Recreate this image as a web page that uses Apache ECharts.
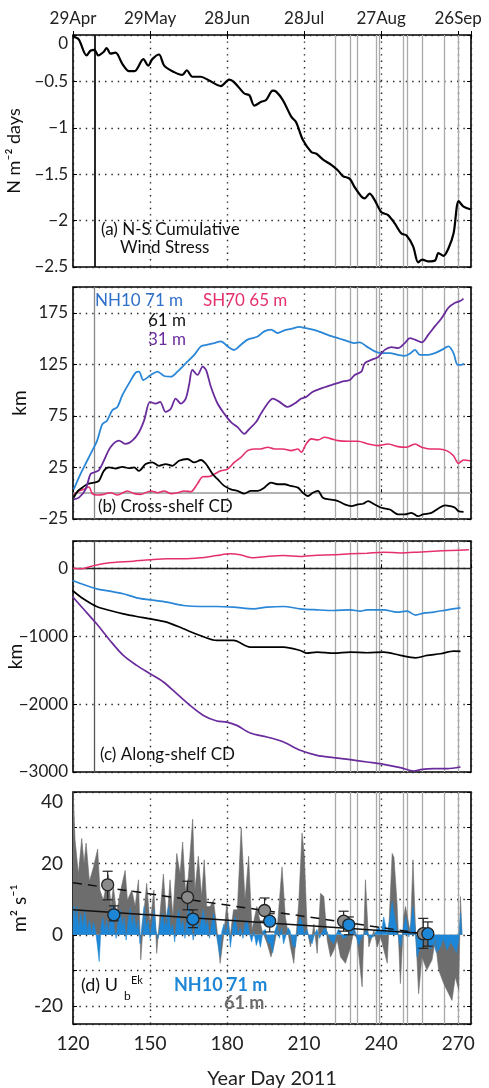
<!DOCTYPE html>
<html>
<head>
<meta charset="utf-8">
<title>Cumulative displacement</title>
<script src="https://cdn.jsdelivr.net/npm/echarts@6/dist/echarts.min.js"></script>
<style>
  html, body { margin: 0; padding: 0; background: #fff; }
  #main { width: 489px; height: 1088px; }
</style>
</head>
<body>
<div id="main"></div>
<script>
// ---- data ----
var xTicks = [120, 150, 180, 210, 240, 270];
var dateLabels = ['29Apr', '29May', '28Jun', '28Jul', '27Aug', '26Sep'];
var eventDays = [222, 228.1, 230.7, 238.2, 239.3, 248.5, 250.3, 256, 264.7, 269.9];
var deployDay = 128.3;

// (a) N-S cumulative wind stress
var windStress = [[120,0],[120.6,-0.02],[122.3,-0.05],[125.3,-0.22],[126.8,-0.17],[128.4,-0.16],[129.8,-0.22],[132,-0.18],[133.1,-0.14],[134.6,-0.2],[136.6,-0.19],[139.2,-0.31],[141.8,-0.39],[144,-0.39],[147.4,-0.26],[149.3,-0.33],[150.9,-0.26],[153.5,-0.21],[155.5,-0.33],[159.4,-0.40],[162.6,-0.43],[164.3,-0.38],[166.5,-0.45],[169.8,-0.45],[173,-0.49],[177.6,-0.55],[180.8,-0.48],[182.8,-0.51],[186.7,-0.63],[188.7,-0.65],[190.6,-0.76],[193.3,-0.72],[195.2,-0.70],[197.8,-0.60],[199.1,-0.61],[201.7,-0.70],[205,-0.88],[206.9,-0.94],[209.5,-1.13],[212.8,-1.26],[214.8,-1.28],[217.3,-1.34],[220.6,-1.40],[223.2,-1.46],[225.1,-1.52],[227.8,-1.55],[229.7,-1.64],[232.3,-1.74],[233.6,-1.76],[235.5,-1.71],[237.5,-1.78],[240.1,-1.91],[242.7,-1.94],[245.3,-2.03],[247.9,-2.14],[249.9,-2.16],[252.5,-2.28],[254.4,-2.45],[256,-2.42],[258.4,-2.44],[261,-2.43],[262.3,-2.35],[264.3,-2.38],[266.2,-2.30],[268.2,-2.14],[270.2,-1.79],[272.1,-1.85],[275,-1.88]];

// (b) cross-shelf cumulative displacement, km
var crossNH71 = [[120.3,3.8],[122.9,18.5],[125.5,31.5],[127.5,41.3],[129.4,51],[131.4,66.7],[133.3,70.6],[135.3,80.4],[137.3,83.7],[139.2,95],[141.8,106.5],[144.4,117],[145.7,118],[147.4,109.8],[150.3,114.7],[152.9,118],[155.5,113.7],[158.1,113],[160.7,118],[163.9,126],[167.2,134.2],[169.8,142.4],[172.4,144],[175,145.6],[177.6,147.3],[180.2,142.4],[182.8,139],[185.4,144],[188,149],[191.9,152],[194.5,157],[197.1,158.7],[199.7,155.4],[202.3,158],[204.9,159.3],[208.2,161.3],[210.2,160.3],[213.4,158.7],[216.7,156],[219.9,152.8],[223.2,150.5],[227.1,147.3],[229.7,145.6],[231.7,146.3],[234.3,142.4],[237.5,137.5],[240.1,135.9],[243.4,135.9],[246.6,134.2],[249.2,133.3],[251.2,135.2],[253.2,139],[255.1,134.2],[258.4,134.2],[261,135.9],[263.6,139],[266.2,142.4],[268.2,135.9],[269.8,124.4],[271.4,124.4],[272.1,126]];
var crossSH65 = [[120.3,-1.7],[122.3,2.2],[124.2,3.8],[126.2,6.1],[127.5,-0.4],[129.4,-1.7],[132,-1.1],[134.6,0.5],[137.3,-1.7],[141.2,2.2],[143.8,-0.4],[146.4,-1.1],[150.3,2.2],[152.9,0.5],[155.5,2.2],[158.1,-0.4],[160.7,0.5],[163.3,2.2],[165.9,1.5],[168.5,9.3],[170.5,15.9],[173.1,16.2],[175,18.5],[177.6,21.7],[180.2,23.4],[182.8,29.9],[185.4,34.8],[188,41.3],[190.6,42.9],[193.2,42.9],[195.8,44.6],[198.4,42.9],[201.7,42.9],[205,41.3],[207.6,42.9],[208.9,39.7],[210.8,47.8],[212.8,52.7],[215.4,51.7],[218,54.3],[220.6,52.7],[223.2,51],[227.1,50.4],[231,50.4],[234.9,47.8],[238.8,46.2],[242.7,47.8],[246.6,45.2],[249.9,44.6],[253.2,47.8],[255.8,44.6],[259,42.9],[262.3,42.9],[265.5,41.3],[268.2,36.4],[270.1,28.9],[272.1,32.2],[274.6,31.5]];
var crossNH61 = [[120.3,-4.3],[121.9,2.2],[123.6,5.4],[125.5,8.7],[128.1,10.3],[130.1,12],[132,21.7],[134,25],[136.6,24],[139.2,25.6],[141.8,24.3],[143.8,25],[145.7,21.7],[148.3,28.3],[150.9,29.9],[153.5,26.6],[156.1,28.3],[158.7,26.6],[161.3,31.5],[164.6,33.2],[167.2,29.9],[169.8,32.2],[171.8,28.3],[174.4,18.5],[176.3,13.6],[178.9,7.1],[181.5,3.8],[184.1,2.2],[186.7,-0.4],[189.3,2.2],[191.9,2.2],[194.5,5.4],[197.1,10.3],[199.7,8.7],[202.3,8.7],[204.9,7.1],[207.6,5.4],[209.5,0.5],[211.5,-2.7],[213.4,0.5],[215.4,2.2],[217.3,-4.3],[219.9,-6],[223.2,-7.6],[225.8,-10.9],[228.4,-12.5],[231,-10.9],[233,-10.2],[234.9,-7.6],[237.5,-10.9],[240.1,-14.1],[243.4,-15.8],[246.6,-20.6],[249.2,-20.6],[251.8,-19],[254.4,-22.3],[256.3,-20.6],[259.6,-19],[262.3,-14.8],[264.9,-11.8],[266.8,-12.5],[268.8,-14.1],[270.1,-17.4],[272.1,-18]];
var crossNH31 = [[120.3,-6],[122.3,-4.3],[124.9,3.8],[126.8,18.5],[128.1,20.1],[130.1,22.4],[132,31.5],[134.6,44.6],[137.9,51],[140.5,47.8],[143.1,51],[145.7,59.2],[147.7,70.6],[150,88.6],[152.2,86.9],[153.9,88.6],[156.1,78.8],[158.1,82],[160,91.8],[162,86.9],[163.9,91.8],[165.2,104.9],[166.5,119.6],[168.5,114.7],[170.5,122.8],[171.8,119.6],[173.7,103.3],[176.3,87],[178.9,77.2],[181.5,69],[184.1,64.1],[186.7,57.6],[188.7,62.5],[191.3,69],[193.2,77.2],[195.8,87],[197.8,91.8],[200.4,88.6],[203.7,83.7],[206.3,87],[208.9,91.8],[210.8,93.4],[213.4,98.4],[216.7,101.6],[220.6,104.9],[224.5,108.1],[227.8,109.8],[229.7,114.7],[232.3,118],[233.6,126],[236.2,129.3],[238.8,132],[241.4,139],[244,141.7],[246.6,140.7],[249.2,145.6],[251.2,150.5],[253.2,148.9],[255.8,146.3],[258.4,153.8],[261,162],[263.6,170],[266.2,179.9],[268.8,184.8],[270.8,186.4],[272.1,188.7]];

// (c) along-shelf cumulative displacement, km
var alongSH65 = [[120,0],[123.3,-10],[127.2,29],[133,74],[143.5,103],[150,123],[156.5,137],[163,137],[169.5,152],[176,186],[181.2,211],[185.1,196],[190.3,152],[195.5,172],[202,186],[208.5,172],[215,191],[221.5,196],[228,211],[234.5,221],[241,235],[247.5,225],[254,235],[260.5,250],[267,260],[274.2,270]];
var alongNH71 = [[119.8,-181],[124,-240],[129.2,-304],[134.4,-338],[139.6,-377],[144.8,-436],[150,-466],[156.5,-500],[163,-549],[169.5,-564],[176,-564],[182.5,-574],[190.3,-598],[195.5,-574],[202,-564],[208.5,-598],[215,-613],[221.5,-623],[228,-613],[231.9,-632],[234.5,-613],[241,-613],[246.2,-647],[250.1,-632],[253.4,-691],[256.6,-662],[260.5,-647],[265.7,-613],[270.9,-583]];
var alongNH61 = [[119.8,-328],[124,-451],[129.2,-564],[134.4,-623],[139.6,-672],[144.8,-711],[150,-745],[156.5,-794],[163,-892],[169.5,-990],[176,-1064],[182.5,-1064],[189,-1162],[195.5,-1162],[202,-1162],[208.5,-1211],[211.1,-1250],[215,-1235],[221.5,-1250],[228,-1235],[234.5,-1245],[241,-1235],[247.5,-1284],[253.4,-1319],[257.9,-1284],[263.1,-1260],[268.3,-1221],[270.9,-1225]];
var alongNH31 = [[119.8,-417],[124,-598],[129.2,-819],[134.4,-1064],[139.6,-1284],[144.8,-1431],[150,-1554],[155.2,-1676],[160.4,-1848],[165.6,-2020],[170.8,-2167],[176,-2250],[179.9,-2265],[183.8,-2314],[189,-2426],[195.5,-2485],[202,-2559],[208.5,-2681],[215,-2755],[221.5,-2789],[228,-2819],[234.5,-2853],[241,-2887],[247.5,-2936],[252.7,-2985],[255.3,-2966],[260.5,-2951],[265.7,-2951],[270.9,-2926]];

// (d) Ekman transport U_b^Ek, m2 s-1
var ekNH61 = [[120,41],[120.8,26.6],[122.1,17],[123.4,27],[124.3,20],[125.1,25.7],[126.4,15],[128,19],[129.6,24],[130.5,12.5],[131.8,9.7],[133.8,16.8],[134.8,8],[135.7,13.5],[137,6],[138.3,11.6],[140.3,18],[141.2,9.7],[142.9,12.5],[144.2,8],[145.5,15.4],[146.4,-7],[147.7,7],[148.7,14.4],[150,3],[151.5,12.5],[152.6,-5.2],[153.9,6],[155.2,17],[156.5,3],[157.8,15.4],[158.9,5],[160.4,22.8],[161.7,17],[162.7,26],[163.8,12.5],[164.9,16],[166.6,32.4],[167.5,12.5],[168.8,22],[170.1,10.7],[171.1,21],[172.1,7.9],[173.4,7.9],[174.7,9.7],[176,2],[177.3,-8],[178.6,-0.6],[179.9,8.8],[181.2,-0.6],[182.5,7],[184,7],[185.5,30],[187,9.7],[188.4,22],[189.7,1.3],[191.6,7.9],[193.6,1.3],[195.6,-2.4],[197.1,-6.2],[198.2,-3.4],[199.5,1.3],[201.4,19],[202.7,5],[204.7,-3.4],[206,-8],[207.9,8.8],[209.2,28.5],[210.1,22],[211.2,1.3],[212.5,-3.4],[213.8,3],[215.1,-5.2],[216.4,11.6],[217.7,10.7],[219,-1.5],[220.3,-6.2],[221.6,-4.3],[222.9,-1.5],[224.2,-6.2],[226.1,-8],[228.1,-3.4],[229.4,1.3],[230.7,-1.5],[232.6,-14.6],[233.9,15.4],[235.2,-3.4],[237.2,1.3],[238.5,-3.4],[239.8,-0.6],[242.4,-8],[244.3,22.8],[245,21.7],[246.2,8.8],[247.5,-13.7],[248.8,5],[249.5,7.9],[251.4,0.4],[252.4,21],[253.3,3.2],[254.6,-16.5],[255.9,-6.2],[257.8,-9.9],[259.8,-7.1],[261.1,-1.5],[262.4,-9.9],[264.4,-13.7],[266.3,-16.5],[267.6,-18.4],[268.9,-11.8],[270.2,-15.5],[270.9,10.7],[271.5,0]];
var ekNH71 = [[120,0],[120.3,8],[121,4],[121.5,8],[122.2,1.5],[123,6],[123.8,2],[124.6,7],[125.5,1],[126.4,4],[127.2,0.5],[128,3.5],[128.8,1],[129.5,-3],[130.2,-7.5],[130.9,2],[131.6,5],[132.4,1],[133.1,4],[133.9,0],[134.6,6],[135.3,8],[136,2],[136.8,-1],[137.6,4],[138.4,7],[139.1,2],[139.9,5],[140.7,-1.5],[141.5,4],[142.3,7.5],[143,2],[143.8,5.5],[144.6,1],[145.4,4],[146.1,-2.5],[146.9,3],[147.7,8],[148.5,2],[149.3,4],[150,-1],[150.8,3],[151.6,7],[152.4,1],[153.2,-1],[154,3],[154.8,6],[155.6,2],[156.4,5],[157.2,8],[158,1],[158.8,3],[159.6,-2],[160.4,4],[161.2,7],[162,2],[162.8,4],[163.6,-1],[164.4,5],[165.2,8],[166,3],[166.8,-1.5],[167.6,2],[168.4,5.5],[169.2,1],[170,4],[170.8,7],[171.6,2],[172.4,4],[173.2,-1],[174,3],[174.8,6],[175.6,1],[176.4,-2.5],[177.2,-6],[178,1],[178.8,3],[179.6,0],[180.4,4],[181.3,-3.5],[182.2,2],[183.2,5],[184.2,0],[185.2,2],[186.2,-1],[187,3],[187.8,4],[188.8,0],[189.6,-2],[190.4,1],[191.4,-3],[192.2,-1],[193,-3.5],[194,1],[194.9,1.5],[195.8,-2],[196.9,-2.5],[197.8,-5],[198.6,1],[199.5,3],[200.4,-1],[201.2,2],[202,-2.5],[203,0],[203.8,2],[204.6,1],[205.6,-3],[206.6,-3.5],[207.5,2],[208.5,5],[209.3,3],[210.2,0],[211.1,1.5],[212,-1],[213.1,-2.5],[214,0],[215,1.5],[216,-1],[217,0.5],[218,2],[218.9,1],[220,-1],[221.5,-2.5],[222.5,0],[223.3,1.5],[224.1,1],[225.1,-1],[226.7,-0.5],[227.8,1],[229.3,2.2],[230.4,0],[231.2,-3],[231.9,-1.5],[233,0],[234.5,1.3],[235.5,-1],[237.1,-0.5],[238,1],[239.1,2.2],[240.1,0.5],[241,5],[242.3,0.4],[243.3,4],[244.3,9.3],[245,6],[246.2,1.3],[247.5,-3.4],[248.2,0],[248.8,2.2],[249.6,5],[250.8,-0.6],[251.6,3],[252.4,7.9],[253.2,2],[254,-6.2],[255,-4],[256,-3.4],[257,-1],[257.9,-1.5],[259,-4],[260.5,-2.4],[261.5,-5],[263.1,-3.4],[264.2,-1],[265.7,-4.3],[267,-2],[268.3,-3.4],[269.3,-5],[270.2,-1.5],[270.9,6],[271.5,0]];
var ptsNH61 = [[133.5,14],[164.6,10.5],[194.6,6.8],[225.4,3.8],[256.4,0.3]];
var errNH61 = [[133.5,9.8,17.8],[164.6,7,15],[194.6,3.8,10.3],[225.4,1,6.6],[256.4,-3.8,4.6]];
var ptsNH71 = [[135.9,5.6],[166.7,4.4],[196.6,3.8],[227.4,2.8],[258.2,0.3]];
var errNH71 = [[135.9,3.9,8.1],[166.7,2,7],[196.6,0.8,5.9],[227.4,0,5],[258.2,-3.2,3.6]];
var fitNH61 = [[120,14.6],[256.4,0.3]];
var fitNH71 = [[120,7],[258.2,0.3]];

// ---- styling ----
var font = 'Lato, "Open Sans", sans-serif';
var dotted = { color: '#222', width: 1.4, type: [1.4, 5] };
var cBlue = '#2a86d6', cPink = '#e5306c', cPurple = '#6a2c9c', cBlack = '#000';
var grids = [
  { left: 73, top: 35, width: 398, height: 232 },
  { left: 73, top: 287, width: 398, height: 232 },
  { left: 73, top: 541, width: 398, height: 231 },
  { left: 73, top: 792, width: 398, height: 232 }
];
grids.forEach(function (g) {
  g.show = true; g.borderColor = '#000'; g.borderWidth = 1.6; g.backgroundColor = '#fff';
  g.containLabel = false; g.outerBoundsMode = 'none';
});

function minus(v) { return v < 0 ? '\u2212' + Math.abs(v) : String(v); }

function xAx(i, bottomLabels) {
  return {
    type: 'value', gridIndex: i, min: 120, max: 275, interval: 30,
    axisLine: { show: false },
    axisTick: { show: true, inside: true, length: 4, lineStyle: { color: '#000' } },
    axisLabel: {
      show: bottomLabels, fontFamily: font, fontSize: 19, color: '#222', margin: 10,
      formatter: function (v) { return v % 30 === 0 ? String(v) : ''; }
    },
    name: bottomLabels ? 'Year Day 2011' : '', nameLocation: 'middle', nameGap: 45, nameMoveOverlap: false,
    nameTextStyle: { fontFamily: font, fontSize: 20, color: '#222' },
    splitLine: { show: true, lineStyle: dotted }
  };
}
function yAx(i, o) {
  var ax = {
    type: 'value', gridIndex: i, min: o.min, max: o.max,
    axisLine: { show: false },
    axisTick: { show: true, inside: true, length: 4, lineStyle: { color: '#000' } },
    axisLabel: { fontFamily: font, fontSize: o.fs, color: '#222', margin: o.margin, formatter: o.fmt,
                 verticalAlignMaxLabel: o.topAlign ? 'top' : null },
    name: o.name, nameLocation: 'middle', nameGap: o.gap, nameRotate: 90, nameMoveOverlap: false,
    nameTextStyle: { fontFamily: font, fontSize: o.nfs, color: '#111' },
    splitLine: { show: true, lineStyle: dotted }
  };
  if (o.interval) ax.interval = o.interval; else ax.splitNumber = o.split;
  return ax;
}
function yMirror(i, src) {
  return {
    type: 'value', gridIndex: i, position: 'right', min: src.min, max: src.max,
    interval: src.interval, splitNumber: src.splitNumber,
    axisLine: { show: false }, axisLabel: { show: false }, splitLine: { show: false },
    axisTick: { show: true, inside: true, length: 4, lineStyle: { color: '#000' } }
  };
}

var yA = yAx(0, { min: -2.5, max: 0, interval: 0.5, fs: 17, margin: 5, topAlign: true,
  fmt: function (v) { return minus(v); }, name: 'N m\u207B\u00B2 days', gap: 50, nfs: 18 });
var yB = yAx(1, { min: -25, max: 200, interval: 50, fs: 17, margin: 5,
  fmt: function (v) { return ((v + 25) % 50 === 0 && v < 200) ? minus(v) : ''; }, name: 'km', gap: 44, nfs: 19 });
var yC = yAx(2, { min: -3000, max: 400, interval: 1000, fs: 17, margin: 5,
  fmt: function (v) { return v % 1000 === 0 ? minus(v) : ''; }, name: 'km', gap: 48, nfs: 19 });
var yD = yAx(3, { min: -25, max: 40, split: 7, fs: 19, margin: 10, topAlign: true,
  fmt: function (v) { return v % 20 === 0 ? String(v) : ''; }, name: 'm\u00B2 s\u207B\u00B9', gap: 44, nfs: 19 });

var topDates = {
  type: 'value', gridIndex: 0, position: 'top', min: 120, max: 275, interval: 30,
  axisLine: { show: false }, splitLine: { show: false },
  axisTick: { show: true, inside: true, length: 4, lineStyle: { color: '#000' } },
  axisLabel: { fontFamily: font, fontSize: 17, color: '#222', margin: 8,
    formatter: function (v) { var k = xTicks.indexOf(v); return k < 0 ? '' : dateLabels[k]; } }
};

function eventLines(extra) {
  var d = eventDays.map(function (x) { return { xAxis: x }; });
  return {
    silent: true, symbol: 'none', z: 1, animation: false, label: { show: false },
    lineStyle: { color: '#aaa', width: 1.3, type: 'solid' },
    data: d.concat(extra || [])
  };
}
function line(name, data, xi, color, width, extra) {
  var s = {
    name: name, type: 'line', data: data, xAxisIndex: xi, yAxisIndex: xi,
    showSymbol: false, smooth: 0.3, animation: false,
    lineStyle: { color: color, width: width }
  };
  for (var k in extra) s[k] = extra[k];
  return s;
}

function errBar(params, api) {
  var x = api.value(0);
  var lo = api.coord([x, api.value(1)]), hi = api.coord([x, api.value(2)]);
  var w = 5, st = { stroke: '#222', lineWidth: 1.2 };
  return { type: 'group', children: [
    { type: 'line', shape: { x1: lo[0], y1: lo[1], x2: hi[0], y2: hi[1] }, style: st },
    { type: 'line', shape: { x1: lo[0] - w, y1: lo[1], x2: lo[0] + w, y2: lo[1] }, style: st },
    { type: 'line', shape: { x1: hi[0] - w, y1: hi[1], x2: hi[0] + w, y2: hi[1] }, style: st }
  ] };
}

var series = [
  line('windStress', windStress, 0, cBlack, 2.2, {
    markLine: eventLines([{ xAxis: deployDay, lineStyle: { color: '#111', width: 1.8 } }]) }),

  line('NH10 71 m', crossNH71, 1, cBlue, 1.8, {
    markLine: eventLines([
      { xAxis: deployDay, lineStyle: { color: '#888', width: 1.3 } },
      { yAxis: 0, lineStyle: { color: '#999', width: 1.5 } }]) }),
  line('SH70 65 m', crossSH65, 1, cPink, 1.6),
  line('61 m', crossNH61, 1, cBlack, 1.8),
  line('31 m', crossNH31, 1, cPurple, 1.8),

  line('SH70 65 m c', alongSH65, 2, cPink, 1.5, {
    markLine: eventLines([
      { xAxis: deployDay, lineStyle: { color: '#555', width: 1.3 } },
      { yAxis: 0, lineStyle: { color: '#222', width: 1.3 } }]) }),
  line('NH10 71 m c', alongNH71, 2, cBlue, 1.7),
  line('61 m c', alongNH61, 2, cBlack, 1.7),
  line('31 m c', alongNH31, 2, cPurple, 1.7),

  line('61 m d', ekNH61, 3, '#6d6d6d', 0.6, {
    smooth: false, areaStyle: { color: '#6d6d6d', opacity: 1 }, markLine: eventLines() }),
  line('NH10 71 m d', ekNH71, 3, '#1d86d6', 0.6, {
    smooth: false, areaStyle: { color: '#1d86d6', opacity: 1 } }),
  line('fit61', fitNH61, 3, '#111', 1.5, { smooth: false, lineStyle: { color: '#111', width: 1.5, type: [9, 6] } }),
  line('fit71', fitNH71, 3, '#111', 1.5, { smooth: false }),
  { type: 'custom', xAxisIndex: 3, yAxisIndex: 3, data: errNH61, renderItem: errBar, encode: { x: 0, y: [1, 2] }, z: 4, animation: false },
  { type: 'custom', xAxisIndex: 3, yAxisIndex: 3, data: errNH71, renderItem: errBar, encode: { x: 0, y: [1, 2] }, z: 4, animation: false },
  { type: 'scatter', xAxisIndex: 3, yAxisIndex: 3, data: ptsNH61, symbolSize: 12, z: 5, animation: false,
    itemStyle: { color: '#8a8a8a', borderColor: '#222', borderWidth: 1.3, opacity: 1 } },
  { type: 'scatter', xAxisIndex: 3, yAxisIndex: 3, data: ptsNH71, symbolSize: 12, z: 5, animation: false,
    itemStyle: { color: '#1d86d6', borderColor: '#222', borderWidth: 1.3, opacity: 1 } }
];

function txt(s, x, y, size, color, weight) {
  return { type: 'text', x: x, y: y, z: 50, silent: true,
    style: { text: s, font: (weight || 'normal') + ' ' + size + 'px ' + font, fill: color, verticalAlign: 'middle' } };
}

var option = {
  backgroundColor: '#fff',
  animation: false,
  grid: grids,
  xAxis: [xAx(0, false), xAx(1, false), xAx(2, false), xAx(3, true), topDates],
  yAxis: [yA, yB, yC, yD, yMirror(0, yA), yMirror(1, yB), yMirror(2, yC), yMirror(3, yD)],
  series: series,
  graphic: [
    txt('(a) N-S Cumulative', 101, 230, 17, '#111'),
    txt('Wind Stress', 120, 248, 17, '#111'),
    txt('NH10 71 m', 95, 301, 17, '#2e6fc9'),
    txt('SH70 65 m', 203, 301, 17, cPink),
    txt('61 m', 148, 321, 17, '#111'),
    txt('31 m', 148, 340, 17, cPurple),
    txt('(b) Cross-shelf CD', 98, 507, 17, '#111'),
    txt('(c) Along-shelf CD', 100, 755, 17, '#111'),
    txt('(d) U', 81, 985, 18, '#111'),
    txt('b', 124, 996, 12, '#111'),
    txt('Ek', 131, 980, 11, '#111'),
    txt('NH10 71 m', 174, 985, 18, '#1d86d6', 'bold'),
    txt('61 m', 224, 1003, 18, '#6d6d6d', 'bold')
  ]
};

var myChart = echarts.init(document.getElementById('main'));
myChart.setOption(option);
</script>
</body>
</html>
